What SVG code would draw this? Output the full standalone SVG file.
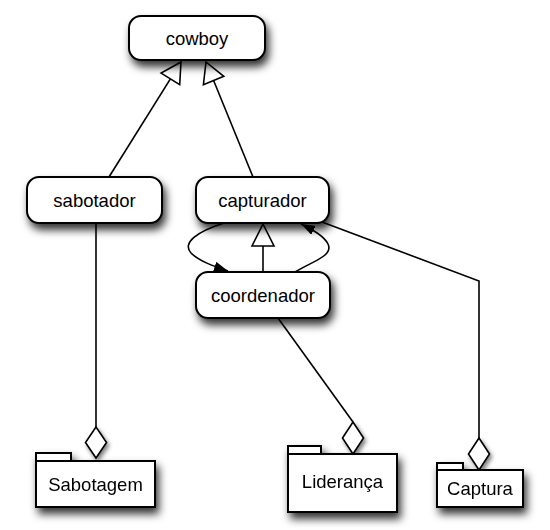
<svg xmlns="http://www.w3.org/2000/svg" width="550" height="530" viewBox="0 0 550 530">
<style>
.box{fill:#fff;stroke:#000;stroke-width:2;filter:url(#sh)}
.pkg rect{fill:#fff;stroke:#000;stroke-width:2}
.pkg{filter:url(#sh)}
.lbl{font-family:"Liberation Sans",Arial,sans-serif;font-size:18.5px;fill:#000;text-anchor:middle}
.ln{fill:none;stroke:#000;stroke-width:1.6}
.tri{fill:#fff;stroke:#000;stroke-width:1.6}
.dia{fill:#fff;stroke:#000;stroke-width:1.6;filter:url(#sh2)}
</style>
<defs>
<filter id="sh" x="-20%" y="-30%" width="150%" height="190%">
<feDropShadow dx="3" dy="6" stdDeviation="4" flood-color="#000" flood-opacity="0.8"/>
</filter>
<filter id="sh2" x="-50%" y="-50%" width="220%" height="220%">
<feDropShadow dx="2" dy="3" stdDeviation="2" flood-color="#000" flood-opacity="0.5"/>
</filter>
<marker id="fa" viewBox="0 0 14 10" refX="14" refY="5" markerWidth="14" markerHeight="10" markerUnits="userSpaceOnUse" orient="auto">
<path d="M0,0 L14,5 L0,10 Z" fill="#000"/>
</marker>
</defs>
<g id="connectors">
<path class="ln" d="M109,177 L170.4,78.9"/>
<polygon class="tri" points="181,62 179.7,84.7 161.1,73.1"/>
<path class="ln" d="M253,177 L213.6,80.5"/>
<polygon class="tri" points="206,62 223.8,76.3 203.4,84.7"/>
<path class="ln" d="M263,272 L263,246"/>
<polygon class="tri" points="263,224 274,246 252,246"/>
<path class="ln" d="M224,223 C196,232 182,243 191,253 C199,261 213,266 228,271" marker-end="url(#fa)"/>
<path class="ln" d="M295,272 C311,262 334,256 328,244 C324,236 313,230 301,224" marker-end="url(#fa)"/>
<path class="ln" d="M96,223 L96,427"/>
<polygon class="dia" points="96,427 106.5,442.5 96,458 85.5,442.5"/>
<path class="ln" d="M278,318 L353,422"/>
<polygon class="dia" points="353,422 363.5,438 353,454 342.5,438"/>
<path class="ln" d="M322,222 L479,281 L479,438"/>
<polygon class="dia" points="479,438 489.5,454 479,470 468.5,454"/>
</g>
<g id="cowboy">
<rect class="box" x="129" y="16" width="136" height="44" rx="12"/>
<text class="lbl" x="197" y="45">cowboy</text>
</g>
<g id="sabotador">
<rect class="box" x="27" y="177" width="135" height="46" rx="12"/>
<text class="lbl" x="94.5" y="207">sabotador</text>
</g>
<g id="capturador">
<rect class="box" x="196" y="177" width="133" height="46" rx="12"/>
<text class="lbl" x="262.5" y="207">capturador</text>
</g>
<g id="coordenador">
<rect class="box" x="196" y="272" width="134" height="46" rx="12"/>
<text class="lbl" x="263" y="302">coordenador</text>
</g>
<g id="Sabotagem" class="pkg">
<rect x="36" y="453" width="35" height="8"/>
<rect x="36" y="461" width="119" height="46"/>
<text class="lbl" x="95.5" y="491">Sabotagem</text>
</g>
<g id="Lideranca" class="pkg">
<rect x="288" y="446" width="33" height="8"/>
<rect x="288" y="454" width="109" height="58"/>
<text class="lbl" x="342.5" y="488">Liderança</text>
</g>
<g id="Captura" class="pkg">
<rect x="437" y="463" width="26" height="7"/>
<rect x="437" y="470" width="86" height="37"/>
<text class="lbl" x="480" y="495">Captura</text>
</g>
</svg>
